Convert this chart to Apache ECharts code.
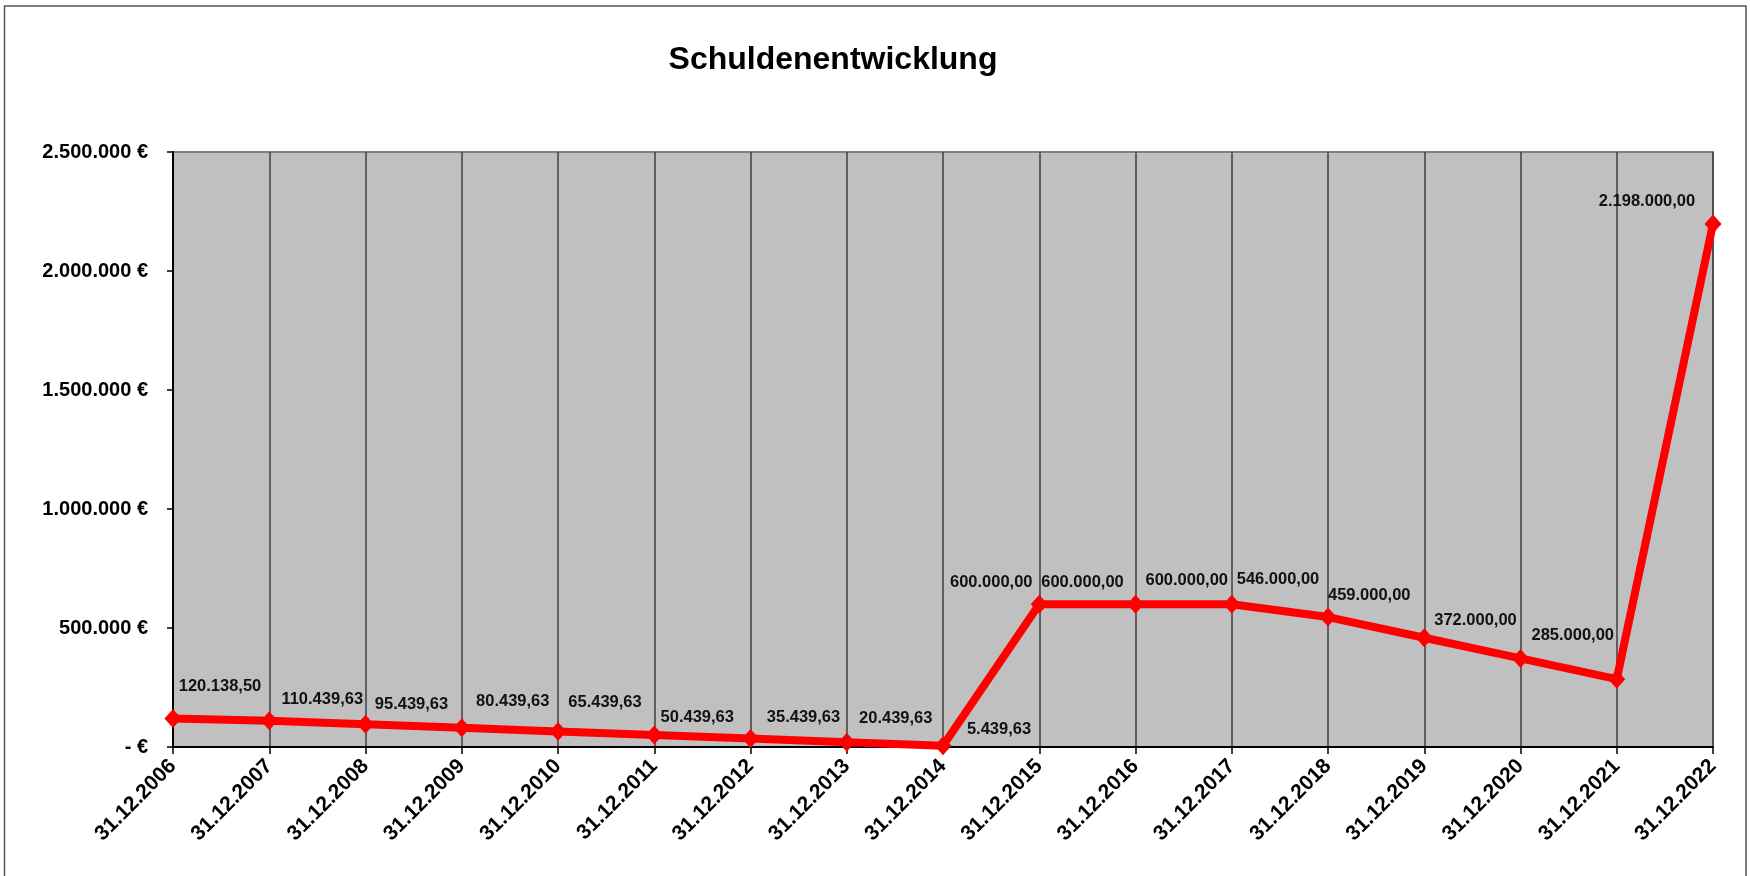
<!DOCTYPE html>
<html>
<head>
<meta charset="utf-8">
<script src="https://cdn.jsdelivr.net/npm/echarts@6/dist/echarts.min.js"></script>
<style>
  html, body { margin: 0; padding: 0; background: #fff; }
  #chart { width: 1750px; height: 876px; }
</style>
</head>
<body>
<div id="chart"></div>
<script>
// ---- data ----
const chartTitle = 'Schuldenentwicklung';
const categories = ['31.12.2006','31.12.2007','31.12.2008','31.12.2009','31.12.2010','31.12.2011',
  '31.12.2012','31.12.2013','31.12.2014','31.12.2015','31.12.2016','31.12.2017','31.12.2018',
  '31.12.2019','31.12.2020','31.12.2021','31.12.2022'];
const debtValues = [120138.50, 110439.63, 95439.63, 80439.63, 65439.63, 50439.63,
  35439.63, 20439.63, 5439.63, 600000.00, 600000.00, 600000.00, 546000.00,
  459000.00, 372000.00, 285000.00, 2198000.00];
const yTicks = [0, 500000, 1000000, 1500000, 2000000, 2500000];

// ---- label placement (style only, relative offsets from each point) ----
const labelOffsets = [[47,-32],[53,-21],[46,-20],[51,-26],[47,-29],[43,-18],[53,-21],[49,-24],[56,-16],
  [-48,-22],[-53,-22],[-45,-24],[-50,-38],[-55,-42],[-45,-38],[-44,-44],[-66,-22]];

function groupThousands(intStr) {
  return intStr.replace(/\B(?=(\d{3})+(?!\d))/g, '.');
}
function fmtValue(v) {
  const parts = v.toFixed(2).split('.');
  return groupThousands(parts[0]) + ',' + parts[1];
}
function fmtAxis(v) {
  if (v === 0) return '- €';
  return groupThousands(String(Math.round(v))) + ' €';
}

const FONT = 'Arial, "Liberation Sans", sans-serif';

const chart = echarts.init(document.getElementById('chart'), null, { renderer: 'canvas' });
chart.setOption({
  animation: false,
  backgroundColor: '#ffffff',
  title: {
    text: chartTitle,
    left: 828,
    textAlign: 'center',
    top: 39,
    textStyle: { fontFamily: FONT, fontSize: 32, fontWeight: 'bold', color: '#000', lineHeight: 32 }
  },
  graphic: [{
    type: 'rect',
    shape: { x: 4.5, y: 6, width: 1741.5, height: 900 },
    style: { fill: 'none', stroke: '#555', lineWidth: 1.5 },
    silent: true
  }],
  grid: {
    left: 173, right: 37, top: 152, bottom: 129,
    show: true,
    backgroundColor: '#C0C0C0',
    borderColor: '#808080',
    borderWidth: 2
  },
  xAxis: {
    type: 'category',
    data: categories,
    boundaryGap: false,
    axisLine: { show: true, lineStyle: { color: '#000', width: 2 } },
    axisTick: { show: true, length: 7, lineStyle: { color: '#000', width: 1.5 } },
    splitLine: { show: true, lineStyle: { color: '#404040', width: 1.5 } },
    axisLabel: {
      rotate: 45,
      margin: 16,
      interval: 0,
      align: 'right',
      verticalAlign: 'middle',
      fontFamily: FONT, fontSize: 21, fontWeight: 'bold', color: '#000'
    }
  },
  yAxis: {
    type: 'value',
    min: yTicks[0],
    max: yTicks[yTicks.length - 1],
    interval: yTicks[1] - yTicks[0],
    axisLine: { show: true, lineStyle: { color: '#000', width: 2 } },
    axisTick: { show: true, length: 6, lineStyle: { color: '#000', width: 1.5 } },
    splitLine: { show: false },
    axisLabel: {
      margin: 25,
      formatter: fmtAxis,
      fontFamily: FONT, fontSize: 20, fontWeight: 'bold', color: '#000'
    }
  },
  series: [{
    type: 'line',
    data: debtValues.map((v, i) => ({
      value: v,
      label: { offset: labelOffsets[i] }
    })),
    symbol: 'diamond',
    symbolSize: [17, 19],
    showAllSymbol: true,
    itemStyle: { color: '#FF0000' },
    lineStyle: { color: '#FF0000', width: 8 },
    label: {
      show: true,
      position: 'inside',
      align: 'center',
      verticalAlign: 'middle',
      formatter: p => fmtValue(p.value),
      fontFamily: FONT, fontSize: 16.5, fontWeight: 'bold', color: '#111'
    },
    emphasis: { disabled: true },
    z: 3
  }]
});
</script>
</body>
</html>
